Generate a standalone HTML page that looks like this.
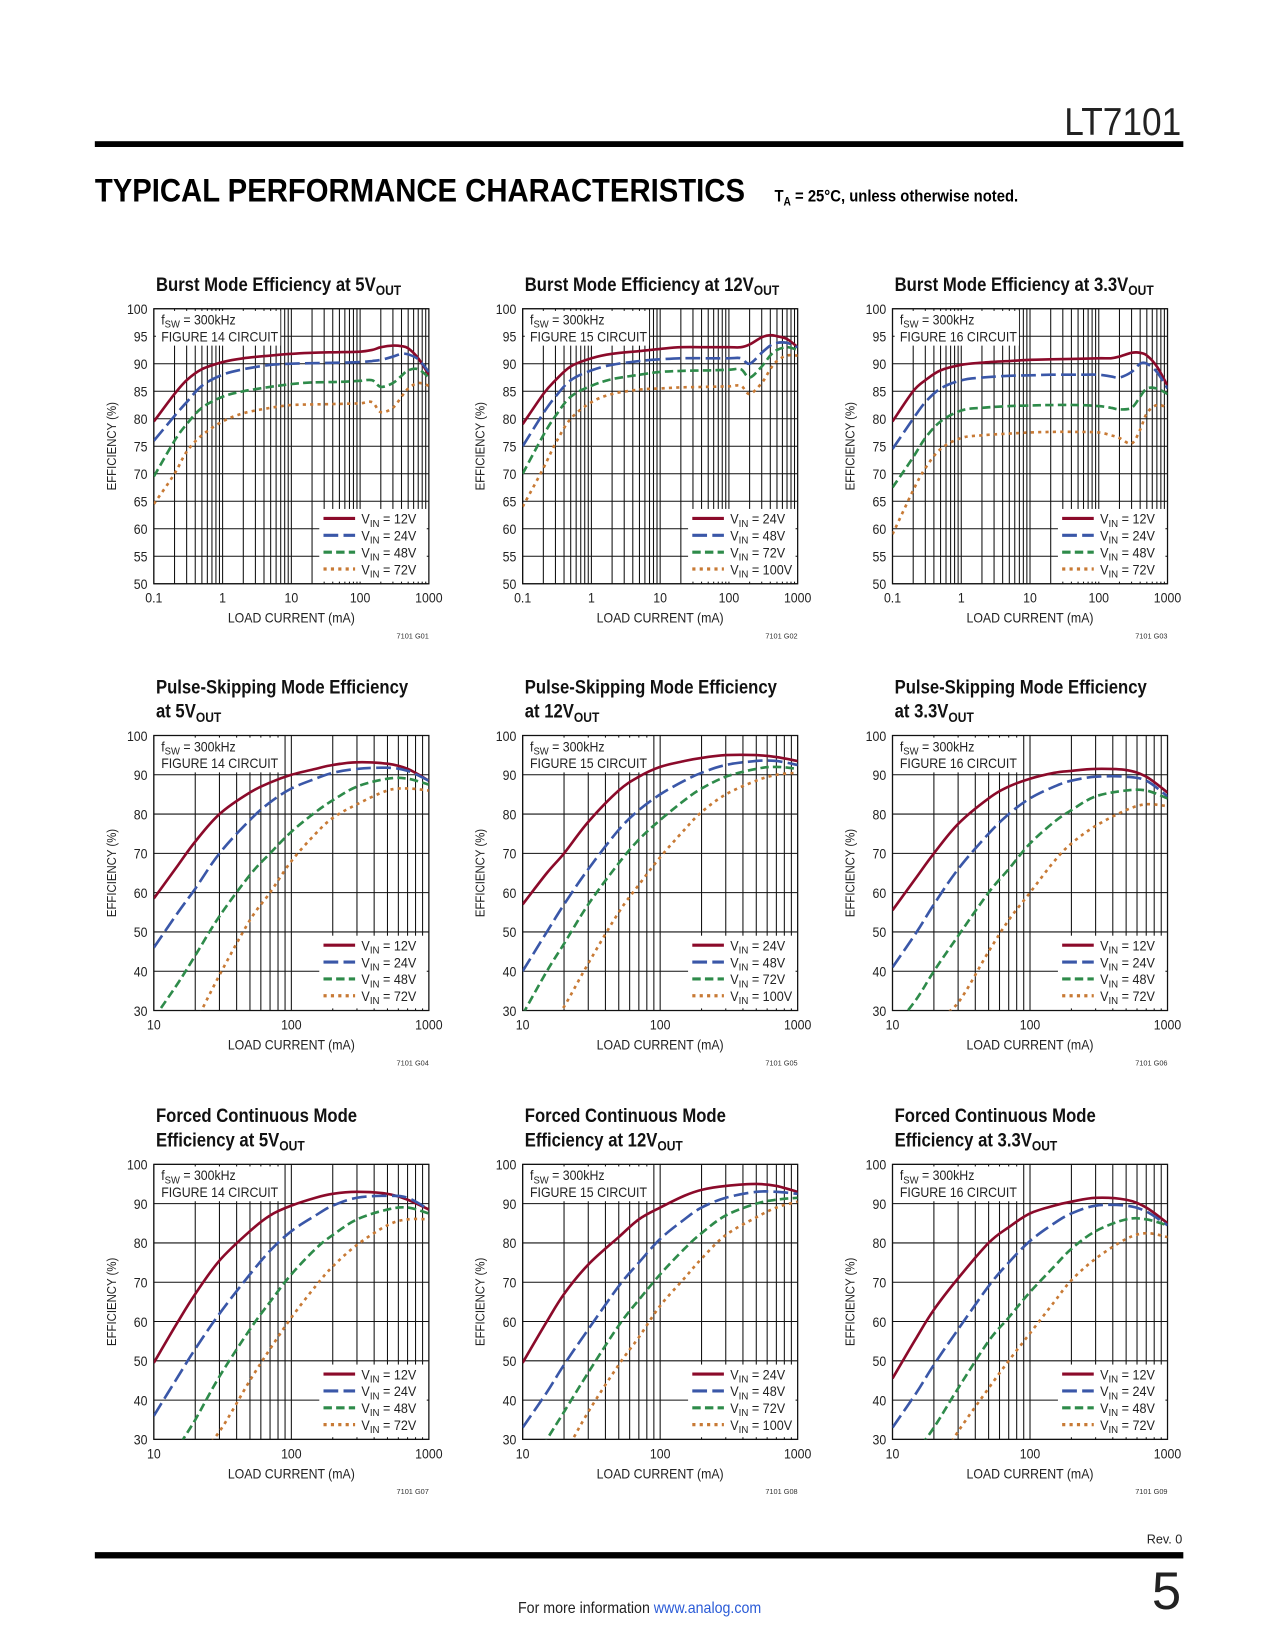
<!DOCTYPE html>
<html><head><meta charset="utf-8"><style>
html,body{margin:0;padding:0;background:#fff}
svg{display:block;font-family:"Liberation Sans",sans-serif}
</style></head><body>
<svg id="page" width="1275" height="1650" viewBox="0 0 1275 1650" xmlns="http://www.w3.org/2000/svg">
<g id="scaler" transform="scale(1.05372)">
<text x="1121" y="128" text-anchor="end" font-size="37" fill="#222" textLength="111" lengthAdjust="spacingAndGlyphs">LT7101</text>
<rect x="90" y="134" width="1033" height="5.5" fill="#000"/>
<text x="90" y="191" font-size="31" font-weight="900" fill="#000" textLength="617" lengthAdjust="spacingAndGlyphs">TYPICAL PERFORMANCE CHARACTERISTICS</text>
<text x="735" y="191" font-size="16" font-weight="bold" fill="#000" transform="translate(735,0) scale(0.88,1) translate(-735,0)">T<tspan font-size="11" dy="4">A</tspan><tspan dy="-4"> = 25°C, unless otherwise noted.</tspan></text>
<rect x="90" y="1473" width="1033" height="6" fill="#000"/>
<text x="1122" y="1465" text-anchor="end" font-size="12" fill="#222">Rev. 0</text>
<text x="1121" y="1527" text-anchor="end" font-size="50" fill="#222">5</text>
<text x="607" y="1531" text-anchor="middle" font-size="15" fill="#222" transform="translate(607,0) scale(0.9,1) translate(-607,0)">For more information <tspan fill="#2a5bd7">www.analog.com</tspan></text>
<g id="charts"></g>
</g>
</svg>
<script>
// Row 1 x positions (mA)
const burstX = [0.1,0.2,0.3,0.5,1,2,5,10,20,50,100,150,200,300,400,500,700,1000];
const burst5_v12 = [79.5,84.5,87,89,90.3,91,91.5,91.8,92,92.1,92.2,92.5,93,93.3,93.2,92.8,91,88];
const burst5_v24 = [76,80.5,83,86,88,89,89.8,90,90.1,90.2,90.3,90.5,90.7,91.3,91.8,91.7,90.8,88.5];
const burst5_v48 = [69.5,76,79,82,84,85,85.8,86.3,86.6,86.7,86.9,87,85.8,86.5,87.8,88.8,89,87.5];
const burst5_v72 = [64.5,70,74,77,79.5,81,82,82.5,82.6,82.7,82.8,83,81.2,82,84,85.5,86.5,86];
const burst12_v24 = [79,84.5,87,89.5,91,91.8,92.3,92.7,93,93,93,93,93.5,94.8,95.2,95,94.5,93];
const burst12_v48 = [75,81,84,87,88.8,89.8,90.5,90.8,91,91,91,91,90,92,93.3,93.8,93.8,93];
const burst12_v72 = [70,77,80.5,84,86,87.2,88,88.5,88.7,88.8,88.9,89,87.5,89.5,91.5,92.5,93,92.5];
const burst12_v100 = [64,71,75.5,80,83,84.5,85.3,85.5,85.7,85.8,85.9,86,84.5,86.5,89,90.5,91.5,91.5];
const burst33_v12 = [79.5,85,87,88.8,89.8,90.2,90.5,90.7,90.8,90.9,91,91,91.3,92,92,91.5,89.5,86];
const burst33_v24 = [74.5,80,83,85.5,87,87.5,87.8,87.9,88,88,88,87.7,87.5,88.5,90,90,88.5,85.5];
const burst33_v48 = [67.5,73,76.5,79.5,81.5,82,82.3,82.4,82.5,82.5,82.3,82,81.7,82,84,85.5,85.5,84.5];
const burst33_v72 = [59,67,71,74.5,76.5,77,77.3,77.5,77.6,77.6,77.5,77,76.5,75.5,78,81,82.5,82];
// Rows 2-3 x positions (mA)
const ccmX = [10,15,20,30,50,70,100,150,200,300,500,700,1000];
const psm5_v12 = [58.5,67,73,80,85.5,88,90,91.5,92.5,93.2,92.8,91.5,88.5];
const psm5_v24 = [46,55,61,70,78.5,83,86.5,89,90.5,91.5,91.8,91,88.5];
const psm5_v48 = [28,37,44,54,64.5,70,75.5,80.5,83.5,87,89,89,87.5];
const psm5_v72 = [10,20,27,39,53,60,68,75,79,82.5,86,86.5,86];
const psm12_v24 = [57,65,70,78,86,89.5,92,93.5,94.3,95,95,94.5,93.5];
const psm12_v48 = [40,50,57,66,76,81,85,88.5,90.5,92.5,93.5,93.5,92.5];
const psm12_v72 = [29,40,47,57,67.5,73.5,78.5,83.5,86.5,89.5,91.5,92,91.5];
const psm12_v100 = [15,25,31,42,55,62,69,76,80.5,85,88.5,90,90.5];
const psm33_v12 = [55.5,64,70,77.5,84,87,89,90.5,91,91.5,91.2,89.5,85.5];
const psm33_v24 = [41,50,57,66,75,80,84,87,88.5,89.5,89.5,88.5,84.5];
const psm33_v48 = [25,33,40,49,60,66,72.5,78,81,84.5,86,86,84];
const psm33_v72 = [15,22,27,32,45,53,60,68,72.5,77,81,82.5,82];
const fcm5_v12 = [49.5,60,67,75.5,83,87,89.5,91.5,92.5,93,92.5,91,88.5];
const fcm5_v24 = [36,46,53,62,72,78,83,87,89.5,91.5,92,91.5,88.5];
const fcm5_v48 = [18,28,35,46,58,65,72,78.5,82,86,88.5,89,87.5];
const fcm5_v72 = [10,18,25,32,45,53,61,69,74,79.5,84.5,86,86];
const fcm12_v24 = [49.5,60,67,74.5,81.5,86,89,92,93.5,94.5,95,94.5,93];
const fcm12_v48 = [33,42,49,58,69,75,81,86,89,91.5,93,93,92.5];
const fcm12_v72 = [20,30,37,47,59,65.5,72,78.5,82.5,87,90,91,91.5];
const fcm12_v100 = [10,19,26,37,49,56,64,71,76,82,86.5,89,90.5];
const fcm33_v12 = [45.5,56,63,71,80,84,87.5,89.5,90.5,91.5,91,89,85];
const fcm33_v24 = [33,42,49,58,69,75,80.5,85,87.5,89.5,89.5,88,84.5];
const fcm33_v48 = [18,27,33,43,55,61,67.5,74,78.5,83,86,86,84.5];
const fcm33_v72 = [8,16,22,32,43,50,57,65,70.5,76,81,82.5,81.5];
const burstXTicks = ["0.1","1","10","100","1000"];
const ccmXTicks = ["10","100","1000"];
const burstYTicks = ["50","55","60","65","70","75","80","85","90","95","100"];
const ccmYTicks = ["30","40","50","60","70","80","90","100"];
const vinLabels5 = ["12V","24V","48V","72V"];
const vinLabels12 = ["24V","48V","72V","100V"];

const NS="http://www.w3.org/2000/svg";
const root=document.getElementById('charts');
function mk(tag,attrs,parent){const e=document.createElementNS(NS,tag);for(const k in attrs)e.setAttribute(k,attrs[k]);(parent||root).appendChild(e);return e;}
const styles=[{c:"#8b0a2a",d:""},{c:"#3a57a8",d:"14,5"},{c:"#2e8b4a",d:"8,4"},{c:"#c87a35",d:"3,4"}];

const charts=[
 {id:"burst5",L:146,T:293,xmin:0.1,xmax:1000,ymin:50,ymax:100,ys:5,title:["Burst Mode Efficiency at 5V|OUT"],fig:"14",code:"7101 G01",xs:burstX,ser:[burst5_v12,burst5_v24,burst5_v48,burst5_v72],lab:vinLabels5,xt:burstXTicks,yt:burstYTicks},
 {id:"burst12",L:496,T:293,xmin:0.1,xmax:1000,ymin:50,ymax:100,ys:5,title:["Burst Mode Efficiency at 12V|OUT"],fig:"15",code:"7101 G02",xs:burstX,ser:[burst12_v24,burst12_v48,burst12_v72,burst12_v100],lab:vinLabels12,xt:burstXTicks,yt:burstYTicks},
 {id:"burst33",L:847,T:293,xmin:0.1,xmax:1000,ymin:50,ymax:100,ys:5,title:["Burst Mode Efficiency at 3.3V|OUT"],fig:"16",code:"7101 G03",xs:burstX,ser:[burst33_v12,burst33_v24,burst33_v48,burst33_v72],lab:vinLabels5,xt:burstXTicks,yt:burstYTicks},
 {id:"psm5",L:146,T:698,xmin:10,xmax:1000,ymin:30,ymax:100,ys:10,title:["Pulse-Skipping Mode Efficiency","at 5V|OUT"],fig:"14",code:"7101 G04",xs:ccmX,ser:[psm5_v12,psm5_v24,psm5_v48,psm5_v72],lab:vinLabels5,xt:ccmXTicks,yt:ccmYTicks},
 {id:"psm12",L:496,T:698,xmin:10,xmax:1000,ymin:30,ymax:100,ys:10,title:["Pulse-Skipping Mode Efficiency","at 12V|OUT"],fig:"15",code:"7101 G05",xs:ccmX,ser:[psm12_v24,psm12_v48,psm12_v72,psm12_v100],lab:vinLabels12,xt:ccmXTicks,yt:ccmYTicks},
 {id:"psm33",L:847,T:698,xmin:10,xmax:1000,ymin:30,ymax:100,ys:10,title:["Pulse-Skipping Mode Efficiency","at 3.3V|OUT"],fig:"16",code:"7101 G06",xs:ccmX,ser:[psm33_v12,psm33_v24,psm33_v48,psm33_v72],lab:vinLabels5,xt:ccmXTicks,yt:ccmYTicks},
 {id:"fcm5",L:146,T:1105,xmin:10,xmax:1000,ymin:30,ymax:100,ys:10,title:["Forced Continuous Mode","Efficiency at 5V|OUT"],fig:"14",code:"7101 G07",xs:ccmX,ser:[fcm5_v12,fcm5_v24,fcm5_v48,fcm5_v72],lab:vinLabels5,xt:ccmXTicks,yt:ccmYTicks},
 {id:"fcm12",L:496,T:1105,xmin:10,xmax:1000,ymin:30,ymax:100,ys:10,title:["Forced Continuous Mode","Efficiency at 12V|OUT"],fig:"15",code:"7101 G08",xs:ccmX,ser:[fcm12_v24,fcm12_v48,fcm12_v72,fcm12_v100],lab:vinLabels12,xt:ccmXTicks,yt:ccmYTicks},
 {id:"fcm33",L:847,T:1105,xmin:10,xmax:1000,ymin:30,ymax:100,ys:10,title:["Forced Continuous Mode","Efficiency at 3.3V|OUT"],fig:"16",code:"7101 G09",xs:ccmX,ser:[fcm33_v12,fcm33_v24,fcm33_v48,fcm33_v72],lab:vinLabels5,xt:ccmXTicks,yt:ccmYTicks}
];
const W=261,H=261;
function condensed(el,x,s){el.setAttribute('transform',`translate(${x},0) scale(${s},1) translate(${-x},0)`);}

charts.forEach(ch=>{
 const g=mk('g',{});
 
 
 const lx0=Math.log10(ch.xmin),lx1=Math.log10(ch.xmax);
 const X=v=>ch.L+(Math.log10(v)-lx0)/(lx1-lx0)*W;
 const Y=v=>ch.T+H-(v-ch.ymin)/(ch.ymax-ch.ymin)*H;
 ch.title.forEach((t,i)=>{
  const nLines=ch.title.length;
  const by=ch.T-17-(nLines-1-i)*23;
  const parts=t.split('|');
  const te=mk('text',{x:ch.L+2,y:by,'font-size':18,'font-weight':'bold',fill:'#111'},g);
  
  
  te.appendChild(document.createTextNode(parts[0]));
  if(parts[1]){const s=mk('tspan',{'font-size':13,dy:4},te);s.textContent=parts[1];}
  condensed(te,ch.L+2,0.88);
 });
 const grid=mk('g',{stroke:'#111','stroke-width':1},g);
 
 
 for(let d=lx0;d<lx1;d++){for(let m=1;m<=9;m++){const v=m*Math.pow(10,d);const x=X(v);mk('line',{x1:x,x2:x,y1:ch.T,y2:ch.T+H},grid);}}
 for(let v=ch.ymin;v<=ch.ymax;v+=ch.ys){const y=Y(v);mk('line',{x1:ch.L,x2:ch.L+W,y1:y,y2:y},grid);}
 mk('rect',{x:ch.L,y:ch.T,width:W,height:H,fill:'none',stroke:'#111','stroke-width':1.2},g);
 mk('rect',{x:ch.L+2,y:ch.T+2,width:118,height:33,fill:'#fff'},g);
 const a1=mk('text',{x:ch.L+7,y:ch.T+15,'font-size':13,fill:'#222'},g);
 
 
 a1.appendChild(document.createTextNode('f'));
 const s1=mk('tspan',{'font-size':10,dy:3},a1);s1.textContent='SW';
 const s2=mk('tspan',{dy:-3},a1);s2.textContent=' = 300kHz';
 condensed(a1,ch.L+7,0.9);
 const a2=mk('text',{x:ch.L+7,y:ch.T+31,'font-size':13,fill:'#222'},g);
 
 
 a2.textContent='FIGURE '+ch.fig+' CIRCUIT';
 condensed(a2,ch.L+7,0.9);
 mk('rect',{x:ch.L+W-104,y:ch.T+H-71,width:102,height:69,fill:'#fff'},g);
 const cid='clip-'+ch.id;
 const cp=mk('clipPath',{id:cid},g);mk('rect',{x:ch.L,y:ch.T,width:W,height:H},cp);
 ch.ser.forEach((vals,si)=>{
  const pts=ch.xs.map((xv,i)=>[X(xv),Y(vals[i])]);
  let d='M'+pts[0][0].toFixed(1)+','+pts[0][1].toFixed(1);
  for(let i=0;i<pts.length-1;i++){
   const p0=pts[Math.max(0,i-1)],p1=pts[i],p2=pts[i+1],p3=pts[Math.min(pts.length-1,i+2)];
   const c1=[p1[0]+(p2[0]-p0[0])/6,p1[1]+(p2[1]-p0[1])/6],c2=[p2[0]-(p3[0]-p1[0])/6,p2[1]-(p3[1]-p1[1])/6];
   d+=` C${c1[0].toFixed(1)},${c1[1].toFixed(1)} ${c2[0].toFixed(1)},${c2[1].toFixed(1)} ${p2[0].toFixed(1)},${p2[1].toFixed(1)}`;
  }
  const st=styles[si];
  const p=mk('path',{d:d,fill:'none',stroke:st.c,'stroke-width':2.5,'clip-path':`url(#${cid})`},g);
  if(st.d)p.setAttribute('stroke-dasharray',st.d);
  
  
  const ly=ch.T+H-62+si*16;
  const ll=mk('line',{x1:ch.L+W-100,x2:ch.L+W-70,y1:ly,y2:ly,stroke:st.c,'stroke-width':3},g);
  if(st.d)ll.setAttribute('stroke-dasharray',st.d);
  
  
  const lt=mk('text',{x:ch.L+W-64,y:ly+5,'font-size':13,fill:'#222'},g);
  
  
  lt.appendChild(document.createTextNode('V'));
  const t1=mk('tspan',{'font-size':10,dy:3},lt);t1.textContent='IN';
  const t2=mk('tspan',{dy:-3},lt);t2.textContent=' = '+ch.lab[si];
  condensed(lt,ch.L+W-64,0.92);
 });
 ch.yt.forEach(t=>{const e=mk('text',{x:ch.L-6,y:Y(+t)+5,'font-size':13,'text-anchor':'end',fill:'#222'},g);
  e.textContent=t;condensed(e,ch.L-6,0.9);});
 ch.xt.forEach(t=>{const x=X(+t);const e=mk('text',{x:x,y:ch.T+H+18,'font-size':13,'text-anchor':'middle',fill:'#222'},g);
  e.textContent=t;condensed(e,x,0.9);});
 const xl=mk('text',{x:ch.L+W/2,y:ch.T+H+37,'font-size':13,'text-anchor':'middle',fill:'#222'},g);
 xl.textContent='LOAD CURRENT (mA)';condensed(xl,ch.L+W/2,0.9);
 const yx=ch.L-36,yy=ch.T+H/2;
 const yl=mk('text',{x:0,y:0,'font-size':12,'text-anchor':'middle',fill:'#222',transform:`translate(${yx},${yy}) rotate(-90) scale(0.9,1)`},g);
 yl.textContent='EFFICIENCY (%)';
 const cd=mk('text',{x:ch.L+W,y:ch.T+H+52,'font-size':7,'text-anchor':'end',fill:'#333'},g);
 cd.textContent=ch.code;
});
</script>
</body></html>
